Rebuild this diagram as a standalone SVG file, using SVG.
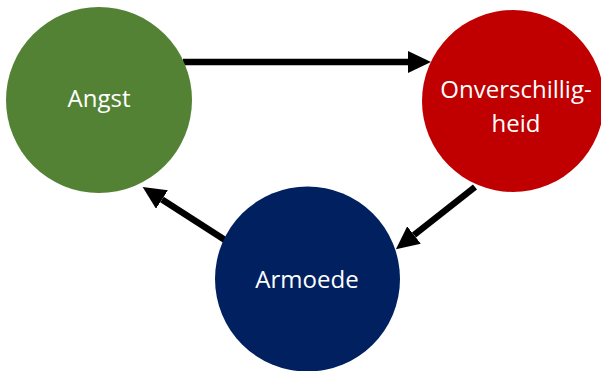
<svg xmlns="http://www.w3.org/2000/svg" width="601" height="371" viewBox="0 0 601 371">
<style>
.lbl{font-family:"Open Sans","Noto Sans","Liberation Sans",sans-serif;font-size:24px;fill:#ffffff;text-anchor:middle}
.con{stroke:#000;stroke-width:6.5;fill:none}
</style>
<defs>
<marker id="ah" markerUnits="userSpaceOnUse" viewBox="0 -11 23 22" markerWidth="23" markerHeight="22" refX="0" refY="0" orient="auto">
<path d="M0,-11 L23,0 L0,11 z" fill="#000"/>
</marker>
</defs>
<rect width="601" height="371" fill="#fff"/>
<g id="connectors">
<path class="con" d="M183,62 L408,62" marker-end="url(#ah)"/>
<path class="con" d="M475,187 L414,235" marker-end="url(#ah)"/>
<path class="con" d="M225,240 L162,199.5" marker-end="url(#ah)"/>
</g>
<g id="angst">
<circle cx="99" cy="100" r="93" fill="#548235"/>
<text class="lbl" x="99" y="107">Angst</text>
</g>
<g id="onverschilligheid">
<circle cx="513" cy="101" r="91" fill="#C00000"/>
<text class="lbl" x="516" y="98">Onverschillig-</text>
<text class="lbl" x="516" y="132">heid</text>
</g>
<g id="armoede">
<circle cx="307.5" cy="279" r="92.5" fill="#002060"/>
<text class="lbl" x="307" y="288">Armoede</text>
</g>
</svg>
